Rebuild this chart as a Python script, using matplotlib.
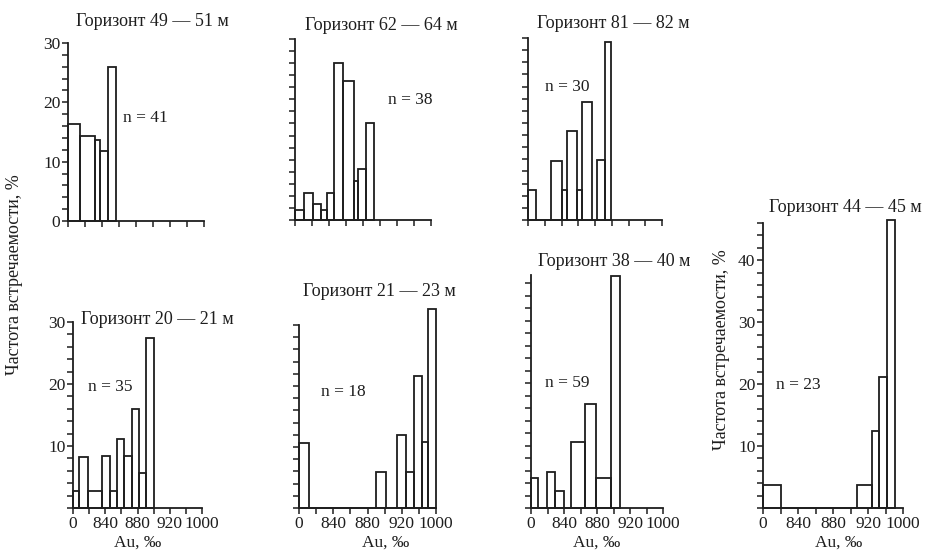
import numpy as np
import matplotlib
matplotlib.use("Agg")
import matplotlib.pyplot as plt
from matplotlib.ticker import MultipleLocator

plt.rcParams['font.family'] = ['Liberation Serif', 'DejaVu Serif']

# Au, ‰ — границы классов и частоты встречаемости, %
edges_49 = [800, 814, 832, 838, 847, 857]
freq_49 = [16.3, 14.4, 13.6, 11.8, 25.9]

edges_62 = [800, 811, 821, 830, 838, 846, 856, 869, 874, 884, 893]
freq_62 = [1.7, 4.5, 2.7, 1.7, 4.5, 26.1, 23.1, 6.4, 8.4, 16.0]

edges_81 = [800, 810, 828, 840, 846, 858, 864, 877, 882, 892, 899]
freq_81 = [5.0, 0, 9.8, 5.0, 14.7, 5.0, 19.4, 0, 9.9, 29.4]

edges_20 = [800, 808, 819, 836, 846, 854, 863, 873, 882, 891, 900]
freq_20 = [2.7, 8.3, 2.7, 8.4, 2.7, 11.2, 8.4, 16.0, 5.7, 27.5]

edges_21 = [800, 812, 890, 902, 915, 925, 934, 944, 951, 960]
freq_21 = [10.7, 0, 5.9, 0, 11.9, 5.9, 21.6, 10.8, 32.6]

edges_38 = [800, 808, 819, 829, 840, 848, 866, 879, 897, 908]
freq_38 = [4.8, 0, 5.7, 2.8, 0, 10.5, 16.7, 4.8, 37.2]

edges_44 = [800, 820, 907, 924, 933, 942, 951]
freq_44 = [3.7, 0, 3.7, 12.5, 21.2, 46.5]

titles = ["Горизонт 49 — 51 м", "Горизонт 62 — 64 м", "Горизонт 81 — 82 м",
          "Горизонт 20 — 21 м", "Горизонт 21 — 23 м", "Горизонт 38 — 40 м",
          "Горизонт 44 — 45 м"]
n_labels = ["n = 41", "n = 38", "n = 30", "n = 35", "n = 18", "n = 59", "n = 23"]
x_ticks = [800, 820, 840, 860, 880, 900, 920, 940, 960]
x_ticklabels = ["0", "", "840", "", "880", "", "920", "", "1000"]

W, H = 925, 552
ink = "#1e1e1e"
fig = plt.figure(figsize=(W / 100, H / 100), dpi=100)


def px_axes(left, right, top, bottom):
    return fig.add_axes([left / W, 1 - bottom / H, (right - left) / W, (bottom - top) / H])


def txt(x, y, s, size=12, **kw):
    fig.text(x / W, 1 - y / H, s, ha='center', va='center', color=ink, fontsize=size, **kw)


# (left, right, top, bottom) px, ylim, y labels shown, x labels shown
panels = [
    (edges_49, freq_49, (68, 204, 43, 221), 30, True, False),
    (edges_62, freq_62, (295, 431, 39, 220), 30, False, False),
    (edges_81, freq_81, (528, 662, 38, 220), 30, False, False),
    (edges_20, freq_20, (73, 202, 322, 508), 30, True, True),
    (edges_21, freq_21, (299, 436, 325, 508), 30, False, True),
    (edges_38, freq_38, (531, 663, 275, 508), 37.3, False, True),
    (edges_44, freq_44, (763, 903, 223, 508), 46, True, True),
]

for edges, freq, box, ymax, ylab, xlab in panels:
    ax = px_axes(*box)
    e = np.array(edges)
    ax.bar(e[:-1], freq, width=np.diff(e), align='edge', fill=False,
           edgecolor=ink, linewidth=1.3, clip_on=False)
    ax.set_xlim(800, 960)
    ax.set_ylim(0, ymax)
    ax.patch.set_visible(False)
    for s in ['top', 'right']:
        ax.spines[s].set_visible(False)
    for s in ['left', 'bottom']:
        ax.spines[s].set_linewidth(1.3)
        ax.spines[s].set_color(ink)
    ax.set_xticks(x_ticks)
    ax.set_xticklabels(x_ticklabels if xlab else [])
    ax.yaxis.set_major_locator(MultipleLocator(10))
    ax.yaxis.set_minor_locator(MultipleLocator(2))
    if ylab:
        ticks = np.arange(0, ymax + 0.1, 10)
        ax.set_yticks(ticks)
        labs = [str(int(t)) for t in ticks]
        if xlab:
            labs[0] = ""
        ax.set_yticklabels(labs)
    else:
        ax.set_yticklabels([])
    ax.tick_params(which='both', direction='out', length=4, width=1.1,
                   color=ink, labelcolor=ink, labelsize=12.5, pad=1.5)

title_pos = [(152, 21), (381, 25), (613, 23), (157, 319), (379, 292), (614, 262), (845, 207)]
n_pos = [(145, 118), (410, 100), (567, 87), (110, 387), (343, 392), (567, 383), (798, 385)]
for t, p in zip(titles, title_pos):
    txt(p[0], p[1], t, size=13)
for t, p in zip(n_labels, n_pos):
    txt(p[0], p[1], t, size=12.5)

for x in (138, 386, 597, 839):
    txt(x, 543, "Au, ‰", size=12.5)

txt(15, 275, "Частота встречаемости, %", size=13, rotation=90)
txt(722, 350, "Частота встречаемости, %", size=13, rotation=90)

fig.savefig("out.png", dpi=100, facecolor="white")
